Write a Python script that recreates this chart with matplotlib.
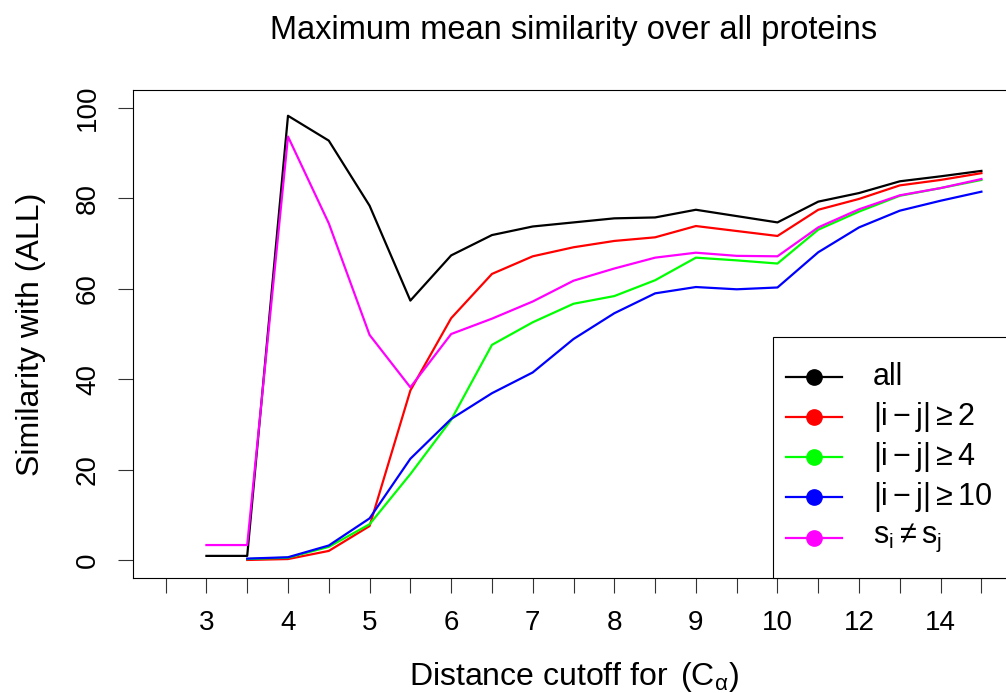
import numpy as np
import matplotlib
matplotlib.use('Agg')
import matplotlib.pyplot as plt
from matplotlib.patches import Rectangle
from matplotlib.lines import Line2D

plt.rcParams['font.family'] = ['Liberation Sans', 'DejaVu Sans']
plt.rcParams['mathtext.fontset'] = 'custom'
plt.rcParams['mathtext.rm'] = 'Liberation Sans'
plt.rcParams['mathtext.it'] = 'Liberation Sans'
plt.rcParams['mathtext.bf'] = 'Liberation Sans:bold'

nan = np.nan

# distance cutoffs (categorical x axis); first one has no data
cutoffs = ['2.5', '3', '3.5', '4', '4.5', '5', '5.5', '6', '6.5', '7', '7.5',
           '8', '8.5', '9', '9.5', '10', '11', '12', '13', '14', '15']

sim_all = [nan, 0.9, 0.9, 98.3, 92.8, 78.4, 57.4, 67.4, 71.9, 73.8, 74.7,
           75.6, 75.8, 77.5, 76.1, 74.7, 79.3, 81.2, 83.8, 84.9, 86.1]
sim_ij2 = [nan, nan, 0.0, 0.2, 2.0, 7.5, 37.5, 53.5, 63.3, 67.2, 69.2,
           70.6, 71.4, 73.9, 72.8, 71.7, 77.5, 79.9, 82.9, 84.1, 85.6]
sim_ij4 = [nan, nan, 0.2, 0.5, 2.9, 7.9, 19.0, 31.0, 47.6, 52.6, 56.7,
           58.4, 61.9, 66.9, 66.3, 65.6, 73.1, 77.1, 80.6, 82.3, 84.1]
sim_ij10 = [nan, nan, 0.3, 0.6, 3.2, 9.2, 22.4, 31.2, 36.9, 41.5, 48.9,
            54.6, 59.0, 60.4, 59.9, 60.3, 68.1, 73.6, 77.3, 79.5, 81.5]
sim_ss = [nan, 3.3, 3.3, 93.7, 74.5, 49.8, 38.2, 50.0, 53.4, 57.2, 61.8,
          64.5, 66.9, 68.0, 67.3, 67.2, 73.6, 77.6, 80.7, 82.3, 84.3]

series = [sim_all, sim_ij2, sim_ij4, sim_ij10, sim_ss]
labels = ['all', r'$|\mathrm{i}-\mathrm{j}|\geq 2$',
          r'$|\mathrm{i}-\mathrm{j}|\geq 4$',
          r'$|\mathrm{i}-\mathrm{j}|\geq 10$',
          r'$\mathrm{s_i}\neq \mathrm{s_j}$']
colors = ['black', '#FF0000', '#00FF00', '#0000FF', '#FF00FF']

fig = plt.figure(figsize=(10.06, 6.93), dpi=100)
ax = fig.add_axes([0.1322, 0.1659, 0.8758, 0.7042])

x = np.arange(1, len(cutoffs) + 1)
for vals, col in zip(series, colors):
    ax.plot(x, vals, color=col, lw=1.6)

ax.set_xlim(0.2, 21.8)
ax.set_ylim(-4, 104)

ax.set_xticks(x)
ax.set_xticklabels([c if i % 2 == 1 else '' for i, c in enumerate(cutoffs)])
ax.set_yticks([0, 20, 40, 60, 80, 100])
ax.tick_params(axis='both', direction='out', length=11, width=0.8,
               labelsize=20, color='#333333')
ax.tick_params(axis='x', pad=12)
ax.tick_params(axis='y', pad=12)
for lab in ax.get_yticklabels():
    lab.set_rotation(90)
    lab.set_va('center')

for sp in ax.spines.values():
    sp.set_linewidth(0.8)
    sp.set_color('black')

ax.set_title('Maximum mean similarity over all proteins', fontsize=23.5, pad=37)
ax.set_xlabel(r'Distance cutoff for $\,(\mathrm{C}_{\alpha})$', fontsize=23, labelpad=17)
ax.set_ylabel('Similarity with (ALL)', fontsize=23, labelpad=21)

# legend box drawn in the bottom right corner, like R's legend("bottomright")
leg_left, leg_top = 0.7264, 0.4939
ax.add_patch(Rectangle((leg_left, 0), 1 - leg_left, leg_top, transform=ax.transAxes,
                       facecolor='white', edgecolor='black', lw=0.8, zorder=5,
                       clip_on=False))
dy = 0.0822
for k, (lab, col) in enumerate(zip(labels, colors)):
    yy = leg_top - (k + 1) * dy
    ax.add_line(Line2D([0.7412, 0.8048], [yy, yy], transform=ax.transAxes,
                       color=col, lw=1.6, zorder=6, clip_on=False))
    ax.add_line(Line2D([0.773], [yy], transform=ax.transAxes, marker='o',
                       markersize=11, color=col, zorder=7, clip_on=False))
    ax.text(0.840, yy, lab, transform=ax.transAxes, fontsize=22,
            va='center', ha='left', zorder=7)

fig.savefig('out.png', dpi=100)
